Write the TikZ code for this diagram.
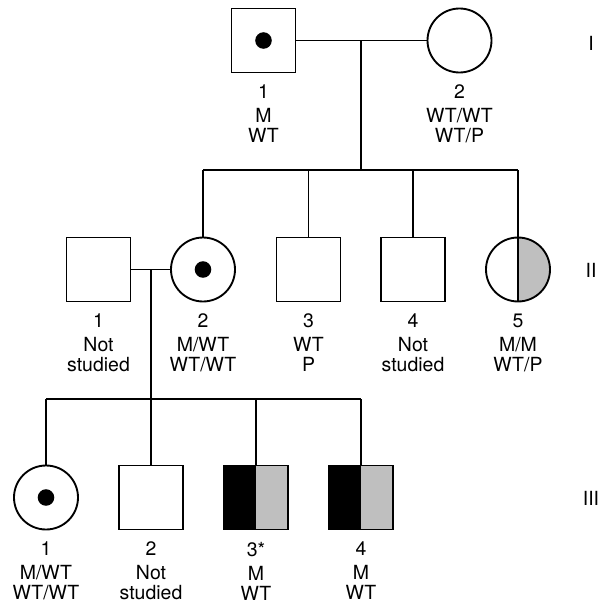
\documentclass[tikz,border=0pt]{standalone}
\usepackage{fontspec}
\setmainfont{TeX Gyre Heros}
\usetikzlibrary{positioning}

\begin{document}
\begin{tikzpicture}[x=0.75pt,y=-0.75pt,line width=1.4pt,
        male/.style={draw, rectangle, minimum size=48pt, inner sep=0pt},
        female/.style={draw, circle, minimum size=48pt, inner sep=0pt},
        carrier/.style={path picture={\fill[black] (path picture bounding box.center) circle (6.2pt);}},
        halfgray/.style={path picture={
            \fill[black!25] (path picture bounding box.north) rectangle (path picture bounding box.south east);
            \draw (path picture bounding box.north) -- (path picture bounding box.south);}},
        affected/.style={path picture={
            \fill[black] (path picture bounding box.south west) rectangle (path picture bounding box.north);
            \fill[black!25] (path picture bounding box.north) rectangle (path picture bounding box.south east);}},
        info/.style={align=center, inner sep=0pt, font=\fontsize{14.6}{15}\selectfont},
        gen/.style={inner sep=0pt, font=\fontsize{14.6}{15}\selectfont}]
    \useasboundingbox (0,0) rectangle (605,607);

    % generation I
    \node[male, carrier] (i1) at (263.5, 40.5) {};
    \node[female] (i2) at (459.5, 40.5) {};
    \node[info, below=8pt of i1] (i1t) {1\\[3pt]M\\WT};
    \node[info, below=8pt of i2] (i2t) {2\\[3pt]WT/WT\\WT/P};
    \node[gen] (g1) at (591, 43) {I};

    % generation II
    \node[male] (ii1) at (98.5, 269.5) {};
    \node[female, carrier] (ii2) at (203, 269.5) {};
    \node[male] (ii3) at (308.5, 269.5) {};
    \node[male] (ii4) at (413, 269.5) {};
    \node[female, halfgray] (ii5) at (518, 269.5) {};
    \node[info, below=8pt of ii1] (ii1t) {1\\[3pt]Not\\studied};
    \node[info, below=8pt of ii2] (ii2t) {2\\[3pt]M/WT\\WT/WT};
    \node[info, below=8pt of ii3] (ii3t) {3\\[3pt]WT\\P};
    \node[info, below=8pt of ii4] (ii4t) {4\\[3pt]Not\\studied};
    \node[info, below=8pt of ii5] (ii5t) {5\\[3pt]M/M\\WT/P};
    \node[gen] (g2) at (591, 270) {II};

    % generation III
    \node[female, carrier] (iii1) at (46, 497.5) {};
    \node[male] (iii2) at (151, 497.5) {};
    \node[male, affected] (iii3) at (256, 497.5) {};
    \node[male, affected] (iii4) at (361, 497.5) {};
    \node[info, below=8pt of iii1] (iii1t) {1\\[3pt]M/WT\\WT/WT};
    \node[info, below=8pt of iii2] (iii2t) {2\\[3pt]Not\\studied};
    \node[info, below=8pt of iii3] (iii3t) {3*\\[3pt]M\\WT};
    \node[info, below=8pt of iii4] (iii4t) {4\\[3pt]M\\WT};
    \node[gen] (g3) at (591, 498) {III};

    % matings and sibships
    \coordinate (m1) at (361, 40.5);
    \coordinate (s1) at (361, 170);
    \coordinate (m2) at (151, 269.5);
    \coordinate (s2) at (151, 399);

    \draw (i1) -- (i2);
    \draw (m1) -- (s1);
    \draw (ii2 |- s1) -- (ii5 |- s1);
    \foreach \k in {ii2, ii3, ii4, ii5}
        \draw (\k |- s1) -- (\k);

    \draw (ii1) -- (ii2);
    \draw (m2) -- (s2);
    \draw (iii1 |- s2) -- (iii4 |- s2);
    \foreach \k in {iii1, iii2, iii3, iii4}
        \draw (\k |- s2) -- (\k);
\end{tikzpicture}
\end{document}
